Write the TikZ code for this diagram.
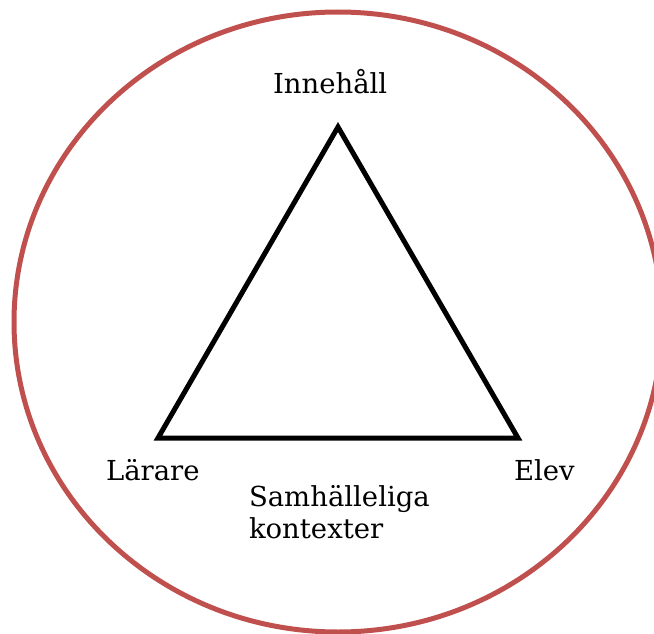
\documentclass[tikz,border=0pt]{standalone}
\usepackage{fontspec}
\setmainfont{DejaVu Serif}
\begin{document}
\begin{tikzpicture}[x=1pt,y=-1pt,
  lbl/.style={inner sep=0pt,outer sep=0pt,font=\fontsize{27.5}{32}\selectfont,align=left},
  ring/.style={draw=ringred,line width=5pt},
  tri/.style={draw=black,line width=5pt,line join=miter}]
\definecolor{ringred}{HTML}{C0504D}
\useasboundingbox (0,0) rectangle (654,634);
\clip (0,0) rectangle (654,634);
\draw[ring] (338,322) ellipse [x radius=324, y radius=310];
\coordinate (top) at (338,127);
\coordinate (left) at (158,438);
\coordinate (right) at (518,438);
\draw[tri] (top) -- (left) -- (right) -- cycle;
\node[lbl,anchor=base west] (innehall) at (273,94) {Innehåll};
\node[lbl,anchor=base west] (larare) at (106,480) {Lärare};
\node[lbl,anchor=base west] (elev) at (514,480) {Elev};
\node[lbl,anchor=base west] (samh) at (249,538) {Samhälleliga\\kontexter};
\end{tikzpicture}
\end{document}
